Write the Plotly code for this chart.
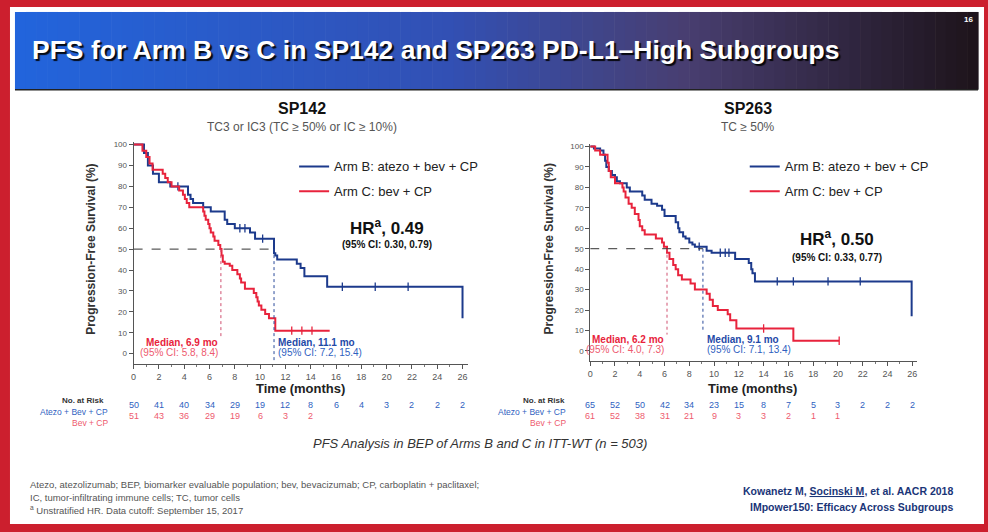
import plotly.graph_objects as go

W, H = 988, 532
def px(x): return x / W
def py(y): return 1 - y / H

FONT = "Liberation Sans, Arial, sans-serif"
BLUE = "#1c3a8c"
RED = "#e8233c"
BLUE_T = "#2f5fbf"
RED_T = "#ee5a6e"

# ---------------- data ----------------
month_ticks = list(range(0, 27, 2))
y_ticks = list(range(0, 101, 10))

# SP142
sp142_b_t = [0, 0.82, 1.13, 1.53, 2.0, 2.9, 4.3, 4.5, 4.7, 5.5, 6.1, 7.2, 7.4, 8.0, 9.2, 9.6, 11.1, 11.2, 11.35, 12.9, 13.2, 13.5, 15.3, 26.0]
sp142_b_s = [100, 96, 90, 86, 82, 80, 76, 74, 72, 70, 68, 64, 62, 60, 58, 55, 48, 47, 45, 43, 41, 37, 32, 17]
sp142_b_cens_t = [3.5, 8.4, 8.8, 10.2, 16.5, 19.1, 21.7]
sp142_b_cens_s = [80, 60, 60, 55, 32, 32, 32]

sp142_c_t = [0, 0.7, 1.0, 1.26, 1.5, 2.3, 2.5, 2.7, 3.0, 3.6, 3.9, 4.05, 4.2, 4.4, 5.5, 5.6, 5.7, 5.9, 6.0, 6.1, 6.3, 6.4, 6.7, 6.85,
             6.95, 7.05, 7.2, 7.6, 7.8, 8.2, 8.4, 8.5, 8.8, 9.5, 9.7, 9.8, 9.9, 10.1, 10.4, 10.7, 11.2, 15.5]
sp142_c_s = [100, 97, 94, 91, 88, 86, 84, 82, 80, 78, 76, 74, 72, 70, 68, 66, 64, 62, 60, 58, 56, 54, 52, 50,
             47, 44, 43, 42, 40, 38, 36, 34, 31, 29, 27, 25, 23, 21, 19, 17, 11, 11]
sp142_c_cens_t = [12.5, 13.3, 14.1]
sp142_c_cens_s = [11, 11, 11]

# SP263
sp263_b_t = [0, 0.3, 0.8, 1.07, 1.2, 1.3, 1.5, 1.75, 2.0, 2.15, 2.4, 2.95, 3.2, 4.2, 4.4, 4.95, 5.4, 5.8, 6.0, 6.9, 7.1, 7.2, 7.5,
             7.7, 8.0, 8.25, 8.45, 9.4, 9.8, 11.7, 12.8, 13.0, 13.1, 13.3, 25.95]
sp263_b_s = [100, 99, 98, 96, 93, 90, 88, 86, 85, 83, 82, 80, 78, 76, 74, 72, 71, 69, 66, 63, 60, 58, 56,
             55, 53, 52, 51, 49, 48, 45, 43, 40, 38, 34, 17]
sp263_b_cens_t = [8.8, 10.5, 10.9, 11.2, 15.1, 16.4, 19.2, 21.8]
sp263_b_cens_s = [51, 48, 48, 48, 34, 34, 34, 34]

sp263_c_t = [0, 0.4, 0.8, 1.4, 1.5, 1.66, 2.0, 2.6, 2.7, 2.85, 3.1, 3.35, 3.6, 3.9, 4.0, 4.2, 4.4, 5.3, 5.8, 5.95, 6.2, 6.4, 6.7,
             6.9, 7.1, 7.4, 8.1, 8.45, 9.4, 9.65, 9.9, 10.3, 11.1, 11.3, 11.8, 16.4, 20.1]
sp263_c_s = [100, 98, 96, 92, 88, 85, 82, 80, 78, 75, 72, 70, 67, 64, 61, 59, 57, 55, 53, 51, 48, 45, 42,
             40, 37, 35, 33, 30, 28, 25, 22, 20, 18, 15, 11, 5, 5]
sp263_c_cens_t = [14.0, 20.1]
sp263_c_cens_s = [11, 5]

# medians (months) and CIs
medians = {"sp142": {"B": 11.1, "C": 6.9}, "sp263": {"B": 9.1, "C": 6.2}}
ci_text = {"sp142": {"B": "(95% CI: 7.2, 15.4)", "C": "(95% CI: 5.8, 8.4)"},
           "sp263": {"B": "(95% CI: 7.1, 13.4)", "C": "(95% CI: 4.0, 7.3)"}}
hr_text = {"sp142": ("0.49", "(95% CI: 0.30, 0.79)"), "sp263": ("0.50", "(95% CI: 0.33, 0.77)")}

# numbers at risk (months 0,2,4,...)
risk_sp142_b = [50, 41, 40, 34, 29, 19, 12, 8, 6, 4, 3, 2, 2, 2]
risk_sp142_c = [51, 43, 36, 29, 19, 6, 3, 2]
risk_sp263_b = [65, 52, 50, 42, 34, 23, 15, 8, 7, 5, 3, 2, 2, 2]
risk_sp263_c = [61, 52, 38, 31, 21, 9, 3, 3, 2, 1, 1]

legend_b = "Arm B: atezo + bev + CP"
legend_c = "Arm C: bev + CP"

# ---------------- figure ----------------
fig = go.Figure()

panels = [
    dict(key="sp142", xa="x", ya="y", leg="legend",
         b=(sp142_b_t, sp142_b_s, sp142_b_cens_t, sp142_b_cens_s),
         c=(sp142_c_t, sp142_c_s, sp142_c_cens_t, sp142_c_cens_s)),
    dict(key="sp263", xa="x2", ya="y2", leg="legend2",
         b=(sp263_b_t, sp263_b_s, sp263_b_cens_t, sp263_b_cens_s),
         c=(sp263_c_t, sp263_c_s, sp263_c_cens_t, sp263_c_cens_s)),
]

for p in panels:
    for arm, col, name in (("b", BLUE, legend_b), ("c", RED, legend_c)):
        t, s, ct, cs = p[arm]
        fig.add_trace(go.Scatter(x=t, y=s, mode="lines", line=dict(color=col, width=2, shape="hv"),
                                 name=name, xaxis=p["xa"], yaxis=p["ya"], legend=p["leg"],
                                 legendgroup=p["key"] + arm, hoverinfo="skip"))
        fig.add_trace(go.Scatter(x=ct, y=cs, mode="markers",
                                 marker=dict(symbol="line-ns", size=6, line=dict(color=col, width=1.3)),
                                 xaxis=p["xa"], yaxis=p["ya"], showlegend=False, hoverinfo="skip"))

axis_common = dict(showgrid=False, zeroline=False, showline=True, linecolor="#555", linewidth=1,
                   ticks="outside", ticklen=4, tickcolor="#555", tickfont=dict(size=9, color="#555", family=FONT))
fig.update_layout(
    xaxis=dict(domain=[px(131), px(466)], range=[0, 26.4], tickvals=month_ticks, anchor="y",
               minor=dict(dtick=1, ticks="outside", ticklen=2, tickcolor="#777"), **axis_common),
    yaxis=dict(domain=[py(363.5), py(141)], range=[-5, 101], tickvals=y_ticks, anchor="x", **axis_common),
    xaxis2=dict(domain=[px(589), px(917)], range=[0, 26.4], tickvals=month_ticks, anchor="y2",
                minor=dict(dtick=1, ticks="outside", ticklen=2, tickcolor="#777"), **axis_common),
    yaxis2=dict(domain=[py(360.5), py(143)], range=[-5, 101], tickvals=y_ticks, anchor="x2", **axis_common),
)
fig.update_yaxes(tickfont=dict(size=8, color="#555", family=FONT))

shapes = []
# red frame / white slide
shapes.append(dict(type="rect", xref="paper", yref="paper", x0=px(7), x1=px(984), y0=py(524), y1=py(5),
                   fillcolor="white", line=dict(width=0), layer="below"))
# header gradient
stops = [(0.0, (34, 100, 220)), (0.45, (50, 80, 180)), (0.7, (72, 62, 112)), (1.0, (30, 20, 28))]
def interp(f):
    for (f0, c0), (f1, c1) in zip(stops[:-1], stops[1:]):
        if f0 <= f <= f1:
            r = (f - f0) / (f1 - f0)
            return "rgb(%d,%d,%d)" % tuple(round(a + (b - a) * r) for a, b in zip(c0, c1))
    return "rgb(30,20,28)"
N = 90
x_start, x_end = 12, 978
for i in range(N):
    xa = x_start + (x_end - x_start) * i / N
    xb = x_start + (x_end - x_start) * (i + 1) / N + 0.6
    shapes.append(dict(type="rect", xref="paper", yref="paper", x0=px(xa), x1=px(xb), y0=py(88), y1=py(10),
                       fillcolor=interp(i / (N - 1)), line=dict(width=0), layer="below"))
shapes.append(dict(type="line", xref="paper", yref="paper", x0=px(12), x1=px(978), y0=py(88), y1=py(88),
                   line=dict(color="#222", width=1.5)))

# median lines
for p in panels:
    m = medians[p["key"]]
    shapes.append(dict(type="line", xref=p["xa"], yref=p["ya"], x0=0, x1=m["B"], y0=50, y1=50,
                       line=dict(color="#333", width=1, dash="dash")))
    c_bottom = 8
    b_bottom = -4 if p["key"] == "sp142" else 9
    shapes.append(dict(type="line", xref=p["xa"], yref=p["ya"], x0=m["C"], x1=m["C"], y0=50, y1=c_bottom,
                       line=dict(color="#d05070", width=1, dash="dot")))
    shapes.append(dict(type="line", xref=p["xa"], yref=p["ya"], x0=m["B"], x1=m["B"], y0=50, y1=b_bottom,
                       line=dict(color="#2a4a9a", width=1, dash="dot")))

ann = []
def A(x, y, text, size, color="#222", xanchor="center", yanchor="middle", **kw):
    d = dict(x=x, y=y, xref="paper", yref="paper", text=text, showarrow=False, xanchor=xanchor, yanchor=yanchor,
             font=dict(size=size, color=color, family=FONT))
    d.update(kw)
    ann.append(d)

# header title with shadow
title = "PFS for Arm B vs C in SP142 and SP263 PD-L1\u2013High Subgroups"
ann.append(dict(x=px(27), y=py(48), xref="paper", yref="paper", text="<b>" + title + "</b>", showarrow=False,
                xanchor="left", yanchor="middle",
                font=dict(size=26.5, color="white", family=FONT, shadow="2px 2px 1px rgba(0,0,0,0.9)")))
A(px(968), py(18), "<b>16</b>", 8, color="white")

# panel titles
A(px(300), py(107), "<b>SP142</b>", 16, "#111")
A(px(300), py(125), "TC3 or IC3 (TC \u2265 50% or IC \u2265 10%)", 12, "#555")
A(px(747), py(107), "<b>SP263</b>", 16, "#111")
A(px(747), py(125), "TC \u2265 50%", 12, "#555")

# y axis titles
A(px(88), py(248), "<b>Progression-Free Survival (%)</b>", 12, "#333", textangle=-90)
A(px(548), py(248), "<b>Progression-Free Survival (%)</b>", 12, "#333", textangle=-90)
# x axis titles
A(px(298), py(388), "<b>Time (months)</b>", 13, "#222")
A(px(752), py(388), "<b>Time (months)</b>", 13, "#222")

# HR
A(px(385), py(226), "<b>HR<sup>a</sup>, %s</b>" % hr_text["sp142"][0], 17, "#111")
A(px(385), py(243), "<b>%s</b>" % hr_text["sp142"][1], 10, "#111")
A(px(837), py(237), "<b>HR<sup>a</sup>, %s</b>" % hr_text["sp263"][0], 17, "#111")
A(px(837), py(256), "<b>%s</b>" % hr_text["sp263"][1], 10, "#111")

# median labels
for p in panels:
    m = medians[p["key"]]
    ci = ci_text[p["key"]]
    for arm, col, anchor in (("C", RED, "right"), ("B", "#1f4aa8", "left")):
        ann.append(dict(x=m[arm], y=5.5, xref=p["xa"], yref=p["ya"], text="<b>Median, %.1f mo</b>" % m[arm],
                        showarrow=False, xanchor=anchor, yanchor="middle", xshift=(2 if anchor == "left" else -1),
                        font=dict(size=10, color=col, family=FONT)))
        ann.append(dict(x=m[arm], y=0.5, xref=p["xa"], yref=p["ya"], text=ci[arm],
                        showarrow=False, xanchor=anchor, yanchor="middle", xshift=(2 if anchor == "left" else -1),
                        font=dict(size=10, color=(RED_T if arm == "C" else BLUE_T), family=FONT)))

# numbers at risk
risk_rows = [
    ("x", 80, 107, risk_sp142_b, risk_sp142_c),
    ("x2", 543, 567, risk_sp263_b, risk_sp263_c),
]
for xa, hx, lx, rb, rc in risk_rows:
    A(px(hx), py(400), "<b>No. at Risk</b>", 8, "#333")
    A(px(lx), py(412), "Atezo + Bev + CP", 8.5, BLUE_T, xanchor="right")
    A(px(lx), py(423), "Bev + CP", 8.5, RED_T, xanchor="right")
    for i, v in enumerate(rb):
        ann.append(dict(x=month_ticks[i], y=py(412), xref=xa, yref="paper", text=str(v), showarrow=False,
                        font=dict(size=9, color=BLUE_T, family=FONT)))
    for i, v in enumerate(rc):
        ann.append(dict(x=month_ticks[i], y=py(423), xref=xa, yref="paper", text=str(v), showarrow=False,
                        font=dict(size=9, color=RED_T, family=FONT)))

A(px(478), py(443), "<i>PFS Analysis in BEP of Arms B and C in ITT-WT (n = 503)</i>", 13, "#333")

# footnotes
A(px(25), py(484), "Atezo, atezolizumab; BEP, biomarker evaluable population; bev, bevacizumab; CP, carboplatin + paclitaxel;",
  9.5, "#555", xanchor="left")
A(px(25), py(497), "IC, tumor-infiltrating immune cells; TC, tumor cells", 9.5, "#555", xanchor="left")
A(px(25), py(510), "<sup>a</sup> Unstratified HR. Data cutoff: September 15, 2017", 9.5, "#555", xanchor="left")

A(px(955), py(491), "<b>Kowanetz M, <span style='text-decoration:underline'>Socinski M</span>, et al. AACR 2018</b>",
  10.5, "#1a3578", xanchor="right")
A(px(955), py(507), "<b>IMpower150: Efficacy Across Subgroups</b>", 10.5, "#1a3578", xanchor="right")

leg_common = dict(bgcolor="rgba(0,0,0,0)", font=dict(size=13, color="#222", family=FONT), itemwidth=30,
                  xanchor="left", yanchor="top", tracegroupgap=5, traceorder="grouped")
fig.update_layout(
    width=W, height=H, margin=dict(l=0, r=0, t=0, b=0),
    paper_bgcolor="#cc1f2e", plot_bgcolor="rgba(0,0,0,0)",
    font=dict(family=FONT),
    shapes=shapes, annotations=ann,
    legend=dict(x=px(292), y=py(150), **leg_common),
    legend2=dict(x=px(744), y=py(150), **leg_common),
)

fig.write_html("out.html", config={"displayModeBar": False},
               post_script="document.body.style.margin='0px';")
